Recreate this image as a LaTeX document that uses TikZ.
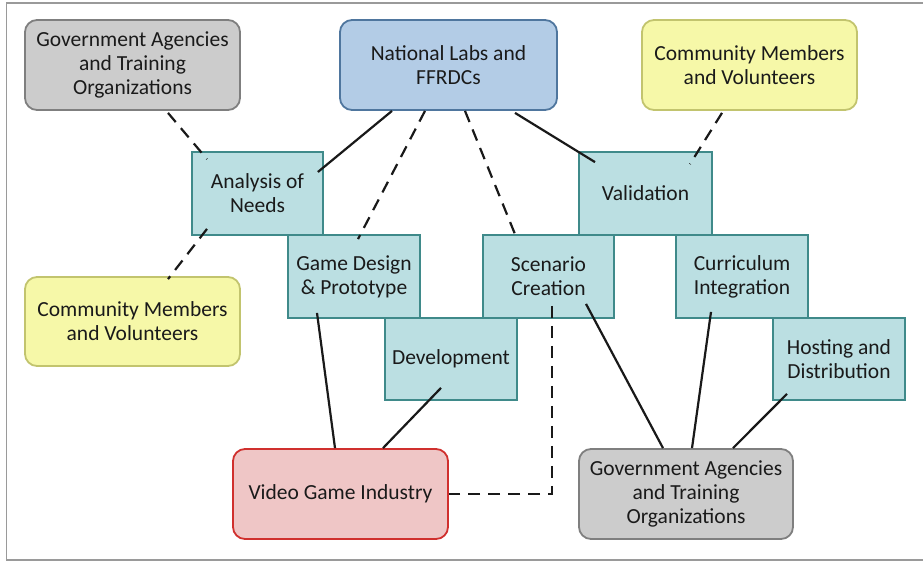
\documentclass[tikz,border=0pt]{standalone}
\usepackage{fontspec}
\setmainfont{Carlito}
\usetikzlibrary{calc}
\definecolor{grayfill}{HTML}{CCCCCC}
\definecolor{grayline}{HTML}{7F7F7F}
\definecolor{bluefill}{HTML}{B3CCE6}
\definecolor{blueline}{HTML}{4F769E}
\definecolor{yelfill}{HTML}{F6F8A8}
\definecolor{yelline}{HTML}{C2C46E}
\definecolor{tealfill}{HTML}{BBDFE2}
\definecolor{tealline}{HTML}{3F8A8A}
\definecolor{redfill}{HTML}{EFC6C6}
\definecolor{redline}{HTML}{D0302E}
\definecolor{txt}{HTML}{1A1A1A}
\definecolor{frame}{HTML}{9A9A9A}
\tikzset{
  base/.style={align=center, text=txt, font=\fontsize{21.5}{24}\selectfont, inner sep=0pt, line width=1.8pt},
  roundbox/.style={base, rounded corners=12pt, minimum width=215pt, minimum height=90pt},
  graybox/.style={roundbox, fill=grayfill, draw=grayline},
  bluebox/.style={roundbox, fill=bluefill, draw=blueline},
  yelbox/.style={roundbox, fill=yelfill, draw=yelline},
  redbox/.style={roundbox, fill=redfill, draw=redline},
  tealbox/.style={base, fill=tealfill, draw=tealline, minimum width=132pt, minimum height=83pt},
  solidlink/.style={line width=2.2pt, draw=black!90},
  dashlink/.style={line width=2.2pt, draw=black!90, dash pattern=on 12pt off 8pt},
}
\begin{document}
\begin{tikzpicture}[x=1pt,y=-1pt]
\useasboundingbox (0,0) rectangle (923,562);
\draw[frame, line width=1.8pt] (6.5,3) rectangle (935,560);

\node[graybox] (gov1) at (132.5,65) {Government Agencies\\and Training\\Organizations};
\node[bluebox, minimum width=217pt] (lab) at (448.5,65) {National Labs and\\FFRDCs};
\node[yelbox] (com2) at (749.5,65) {Community Members\\and Volunteers};
\node[yelbox, minimum height=89pt] (com1) at (132.5,321.5) {Community Members\\and Volunteers};

\node[tealbox, minimum width=131pt] (ana) at (257.5,193.5) {Analysis of\\Needs};
\node[tealbox] (gd) at (354,276.5) {Game Design\\\& Prototype};
\node[tealbox, minimum height=82pt] (dev) at (451,359) {Development};
\node[tealbox, minimum width=131pt] (scen) at (548.5,276.5) {Scenario\\Creation};
\node[tealbox, minimum width=133pt] (val) at (645.5,193.5) {Validation};
\node[tealbox] (cur) at (742,276.5) {Curriculum\\Integration};
\node[tealbox, minimum height=82pt] (host) at (839,359) {Hosting and\\Distribution};

\node[redbox] (vgi) at (340.5,494) {Video Game Industry};
\node[graybox, minimum width=214pt] (gov2) at (686,494) {Government Agencies\\and Training\\Organizations};

% connectors
\draw[dashlink] ($(gov1.south)+(35.5,2)$) -- ($(ana.north)+(-50.5,8)$);
\draw[solidlink] ($(lab.south)+(-56.5,0)$) -- ($(ana.east)+(-6,-21.5)$);
\draw[dashlink] ($(lab.south)+(-23.5,0)$) -- ($(gd.north)+(4,5)$);
\draw[dashlink] ($(lab.south)+(16.5,0)$) -- ($(scen.north)+(-31.5,5)$);
\draw[solidlink] ($(lab.south)+(66.5,2)$) -- ($(val.north)+(-50.5,11)$);
\draw[dashlink] ($(com2.south)+(-27.5,2)$) -- ($(val.north)+(44.5,13)$);
\draw[dashlink] ($(ana.south)+(-50.5,-7)$) -- ($(com1.north)+(35.5,3)$);
\draw[solidlink] ($(gd.south)+(-37,-6)$) -- ($(vgi.north)+(-5.5,0)$);
\draw[solidlink] ($(dev.south)+(-10,-13)$) -- ($(vgi.north)+(42.5,0)$);
\draw[dashlink] ($(scen.south)+(3.5,-13)$) |- (vgi.east);
\draw[solidlink] ($(scen.south)+(37.5,-15)$) -- ($(gov2.north)+(-23,0)$);
\draw[solidlink] ($(cur.south)+(-31,-7)$) -- ($(gov2.north)+(6,0)$);
\draw[solidlink] ($(host.south)+(-52,-7)$) -- ($(gov2.north)+(47,0)$);
\end{tikzpicture}
\end{document}
